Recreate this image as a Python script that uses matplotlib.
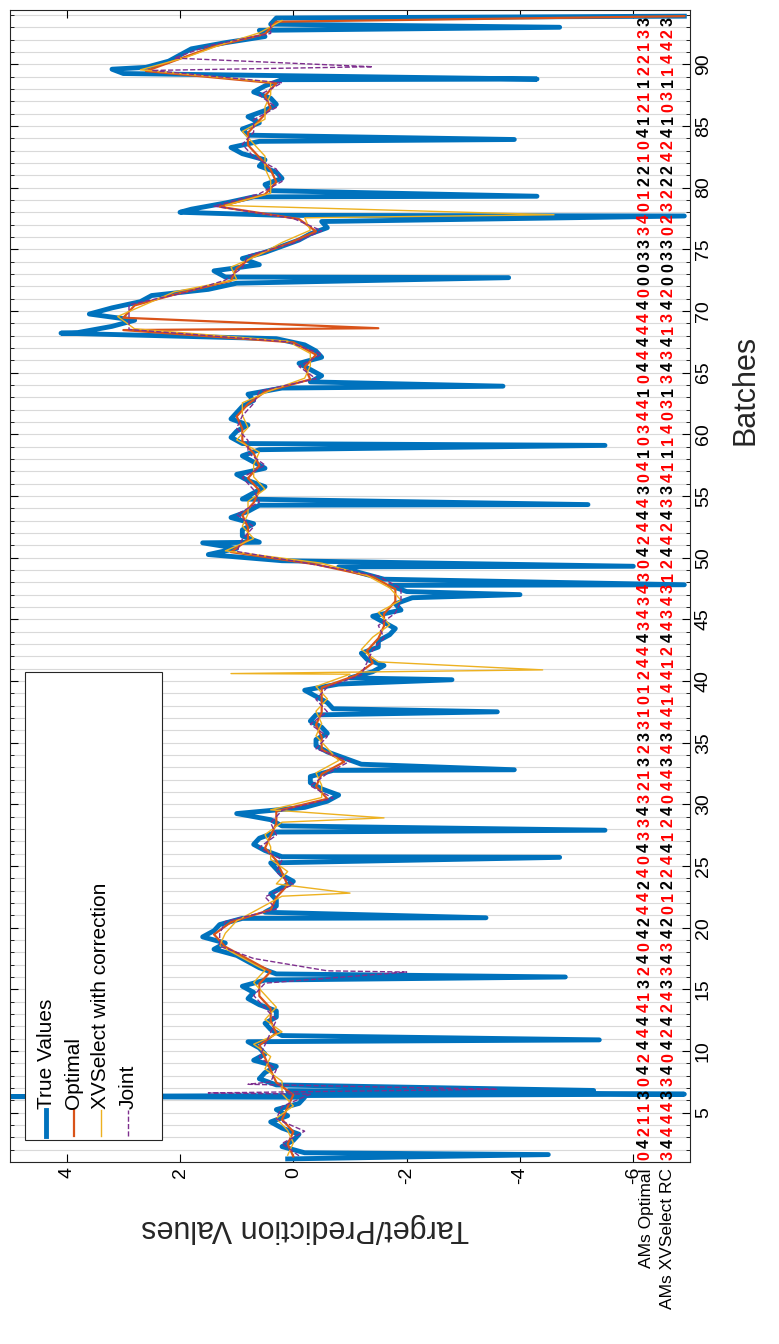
import numpy as np
import matplotlib
matplotlib.use('Agg')
import matplotlib.pyplot as plt
from matplotlib.patches import Rectangle
from matplotlib.lines import Line2D

plt.rcParams['font.family'] = ['Liberation Sans', 'DejaVu Sans']

# per-batch values (first half / second half of each batch)
true_a = [0.1, 0.2, -0.1, 0.4, 0.3, -0.2, 0.3, 0.5, 0.7, 0.6,
          0.2, 0.5, 0.3, 0.8, 0.9, 0.3, 0.8, 1.4, 1.6, 1.3,
          0.5, 0.3, 0.2, 0.2, 0.4, 0.5, 0.6, 0.2, 1.0, -0.6,
          -0.5, -0.3, -1.2, -0.6, -0.4, -0.5, -0.4, -0.6, -0.2, -1.0,
          -1.6, -1.2, -1.5, -1.8, -1.4, -1.8, -2.0, -1.6, -0.8, 1.5,
          0.6, 0.9, 1.1, 0.6, 0.7, 0.8, 0.5, 0.9, 0.9, 1.0,
          1.1, 0.9, 0.8, -0.3, -0.3, -0.5, -0.2, 3.8, 2.8, 3.2,
          2.5, 1.0, 1.4, 0.9, 0.2, -0.3, -0.5, 1.8, 0.7, 0.5,
          0.3, 0.5, 1.1, 0.8, 0.6, 0.5, 0.4, 0.5, 3.0, 2.2,
          1.8, 0.5, 0.4]
true_b = [-0.2, 0.0, 0.2, 0.1, -0.1, 0.1, 0.6, 0.3, 0.5, 0.8,
          0.4, 0.3, 0.6, 0.7, 0.5, 0.6, 1.0, 1.2, 1.4, 0.9,
          0.3, 0.4, 0.0, 0.3, 0.2, 0.7, 0.3, 0.4, -0.2, -0.8,
          -0.3, -0.7, -0.9, -0.4, -0.6, -0.3, -0.7, -0.4, -0.8, -1.4,
          -1.3, -1.5, -1.7, -1.6, -1.9, -2.1, -1.7, -1.2, 0.2, 1.0,
          0.9, 0.7, 0.8, 0.9, 0.5, 1.0, 0.7, 0.6, 1.1, 0.8,
          1.0, 0.7, 0.2, -0.5, -0.1, -0.4, 0.3, 3.2, 3.6, 2.7,
          1.5, 1.2, 0.6, 0.5, -0.1, -0.6, 0.2, 1.2, 0.4, 0.2,
          0.6, 0.9, 0.6, 0.9, 0.8, 0.3, 0.7, 0.2, 2.6, 2.0,
          1.2, 0.6, 0.3]
true_spikes = [(1.6, -4.5), (6.3, 5.2), (6.5, -6.9), (6.8, -5.3), (10.9, -5.4),
               (16.0, -4.8), (20.8, -3.4), (25.7, -4.7), (27.9, -5.5), (32.8, -3.9),
               (37.5, -3.6), (40.1, -2.8), (47.0, -4.0), (47.8, -6.9), (49.3, -6.0),
               (51.2, 1.6), (54.3, -5.2), (59.1, -5.5), (63.9, -3.7), (68.2, 4.1),
               (72.7, -3.8), (77.7, -6.9), (78.0, 2.0), (79.3, -4.3), (83.9, -3.9),
               (88.8, -4.3), (89.6, 3.2), (93.0, -4.7), (93.9, -6.9)]

optimal = [0.0, 0.1, 0.0, 0.2, 0.1, 0.0, 0.3, 0.4, 0.5, 0.6,
           0.3, 0.4, 0.4, 0.6, 0.6, 0.4, 0.8, 1.2, 1.4, 1.1,
           0.4, 0.3, 0.1, 0.2, 0.3, 0.5, 0.4, 0.3, 0.3, -0.6,
           -0.4, -0.5, -0.9, -0.5, -0.5, -0.4, -0.5, -0.5, -0.5, -1.1,
           -1.4, -1.3, -1.5, -1.6, -1.6, -1.8, -1.8, -1.4, -0.4, 1.1,
           0.8, 0.8, 0.9, 0.7, 0.6, 0.8, 0.6, 0.7, 0.9, 0.9,
           1.0, 0.8, 0.5, -0.3, -0.2, -0.4, 0.0, 3.0, 3.0, 2.8,
           2.0, 1.1, 1.0, 0.7, 0.1, -0.4, -0.1, 1.3, 0.5, 0.3,
           0.4, 0.6, 0.8, 0.8, 0.6, 0.4, 0.5, 0.3, 2.6, 2.0,
           1.4, 0.5, 0.3]
optimal_spikes = [(68.6, -1.5), (93.9, -6.9)]

xvselect = [0.1, 0.0, 0.1, 0.3, 0.0, 0.2, 0.2, 0.5, 0.4, 0.7,
            0.2, 0.5, 0.3, 0.5, 0.7, 0.5, 0.9, 1.3, 1.2, 1.0,
            0.6, 0.2, 0.3, 0.1, 0.4, 0.4, 0.5, 0.2, 0.4, -0.5,
            -0.5, -0.4, -0.8, -0.6, -0.4, -0.5, -0.4, -0.6, -0.4, -1.0,
            -1.5, -1.2, -1.4, -1.7, -1.5, -1.9, -1.7, -1.3, -0.5, 1.2,
            0.7, 0.9, 0.8, 0.8, 0.5, 0.7, 0.7, 0.6, 1.0, 0.8,
            0.9, 0.9, 0.4, -0.2, -0.3, -0.3, 0.1, 2.8, 3.1, 2.6,
            2.1, 1.0, 1.1, 0.6, 0.2, -0.3, -0.2, 1.2, 0.4, 0.4,
            0.5, 0.5, 0.7, 0.9, 0.5, 0.5, 0.4, 0.4, 2.7, 1.9,
            1.3, 0.6, 0.2]
xvselect_spikes = [(22.8, -1.0), (28.9, -1.6), (40.6, 1.1), (40.9, -4.4), (77.8, -4.6)]

joint = [-0.1, 0.2, -0.2, 0.3, 0.2, -0.3, 0.4, 0.3, 0.6, 0.5,
         0.4, 0.3, 0.5, 0.7, 0.5, -0.6, 0.7, 1.3, 1.3, 1.2,
         0.3, 0.5, 0.0, 0.3, 0.2, 0.6, 0.3, 0.4, 0.2, -0.7,
         -0.3, -0.6, -1.0, -0.4, -0.6, -0.3, -0.6, -0.4, -0.6, -1.2,
         -1.3, -1.4, -1.6, -1.5, -1.8, -1.9, -1.9, -1.5, -0.3, 1.0,
         0.9, 0.7, 1.0, 0.6, 0.7, 0.9, 0.5, 0.8, 0.8, 1.0,
         0.9, 0.7, 0.6, -0.4, -0.1, -0.5, 0.1, 2.9, 2.9, 2.9,
         1.9, 1.2, 0.9, 0.8, 0.0, -0.5, 0.0, 1.4, 0.6, 0.2,
         0.3, 0.7, 0.9, 0.7, 0.7, 0.3, 0.6, 0.2, 2.5, 2.1,
         1.5, 0.4, 0.4]
joint_spikes = [(6.6, 1.5), (6.9, -3.6), (7.3, 0.8), (16.4, -2.0), (89.8, -1.4)]

ams_optimal = "0421130424444132404244240433432" "13233101244434343" \
              "042444304103441" "044444400033340122104121122133"
ams_xvselect = "3444433404242433434201224412404" "43434414412443431" \
               "244243341114031" "343413420033023222424103114423"

n = len(true_a)
batches = np.arange(1, n + 1)


def series(values, spikes, offset=0.5):
    pts = [(b + offset, v) for b, v in zip(batches, values)] + list(spikes)
    pts.sort()
    pos = np.array([p[0] for p in pts])
    val = np.array([p[1] for p in pts])
    return val, pos


fig = plt.figure(figsize=(7.79, 13.44), dpi=100)
ax = fig.add_axes([10 / 779, 1 - 1162 / 1344, 680 / 779, 1152 / 1344])

for b in range(1, n + 2):
    ax.axhline(b, color='#d9d9d9', lw=0.8, zorder=0)

tpts = []
for b in batches:
    tpts.append((b + 0.25, true_a[b - 1]))
    tpts.append((b + 0.75, true_b[b - 1]))
tpts += true_spikes
tpts.sort()
ax.plot([p[1] for p in tpts], [p[0] for p in tpts], color='#0072BD', lw=3.5, zorder=2)

v, p = series(optimal, optimal_spikes, 0.45)
ax.plot(v, p, color='#D95319', lw=1.6, zorder=3)
v, p = series(xvselect, xvselect_spikes, 0.55)
ax.plot(v, p, color='#EDB120', lw=1.0, zorder=4)
v, p = series(joint, joint_spikes, 0.5)
ax.plot(v, p, color='#7E2F8E', lw=1.0, ls='--', zorder=5)

for i, (a, c) in enumerate(zip(ams_optimal, ams_xvselect)):
    col = 'black' if a == c else 'red'
    y = i + 1.5
    ax.text(-6.2, y, a, color=col, rotation=90, ha='center', va='center',
            fontsize=11.5, fontweight='bold', zorder=6)
    ax.text(-6.62, y, c, color=col, rotation=90, ha='center', va='center',
            fontsize=11.5, fontweight='bold', zorder=6)

ax.set_xlim(5, -7)
ax.set_ylim(1, 94.4)
ax.set_xticks([4, 2, 0, -2, -4, -6])
ax.set_xticklabels(['4', '2', '0', '-2', '-4', '-6'], rotation=90, fontsize=14)
ax.set_yticks(np.arange(5, 95, 5))
ax.set_yticks(np.arange(1, 95), minor=True)
ax.yaxis.tick_right()
ax.set_yticklabels([str(t) for t in range(5, 95, 5)], rotation=90, fontsize=14, va='center')
ax.tick_params(axis='both', direction='in', length=6, top=True, left=True, right=True)
ax.tick_params(axis='y', which='minor', direction='in', length=3, left=True, right=True)
for s in ax.spines.values():
    s.set_color('#262626')

fig.text(745 / 779, 1 - 390 / 1344, 'Batches', rotation=90, fontsize=22,
         ha='center', va='center', color='#262626')
fig.text(305 / 779, 1 - 1228 / 1344, 'Target/Prediction Values', rotation=180,
         fontsize=22, ha='center', va='center', color='#262626')
fig.text(646 / 779, 1 - 1168 / 1344, 'AMs Optimal', rotation=90, fontsize=12.5,
         ha='center', va='top')
fig.text(668 / 779, 1 - 1168 / 1344, 'AMs XVSelect RC', rotation=90, fontsize=12.5,
         ha='center', va='top')


# legend drawn by hand, rotated like the rest of the figure
def fx(x):
    return x / 779


def fy(y):
    return 1 - y / 1344


fig.patches.append(Rectangle((fx(25), fy(1140)), fx(162) - fx(25), fy(672) - fy(1140),
                             transform=fig.transFigure, facecolor='white',
                             edgecolor='#262626', lw=0.8, zorder=10))
entries = [('True Values', '#0072BD', 3.5, '-', 46),
           ('Optimal', '#D95319', 1.6, '-', 74),
           ('XVSelect with correction', '#EDB120', 1.0, '-', 101),
           ('Joint', '#7E2F8E', 1.0, '--', 128)]
for label, color, lw, ls, x in entries:
    fig.lines.append(Line2D([fx(x), fx(x)], [fy(1136), fy(1110)], transform=fig.transFigure,
                            color=color, lw=lw, ls=ls, zorder=11))
    fig.text(fx(x), fy(1109), label, rotation=90, fontsize=15, ha='center', va='bottom',
             zorder=12)

fig.savefig('out.png', dpi=100)
